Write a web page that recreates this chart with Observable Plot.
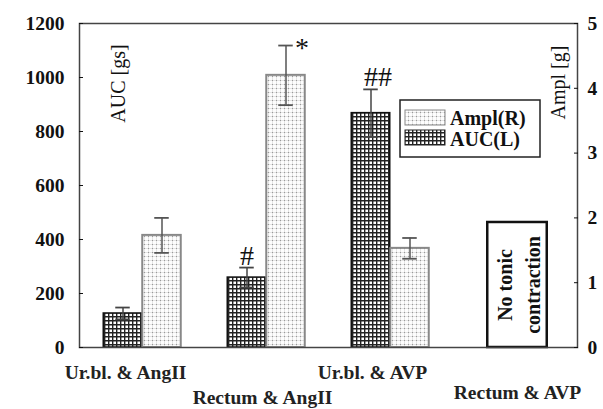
<!DOCTYPE html>
<html><head><meta charset="utf-8">
<script src="https://cdn.jsdelivr.net/npm/d3@7"></script>
<script src="https://cdn.jsdelivr.net/npm/@observablehq/plot@0.6"></script>
<style>body{margin:0;background:#fff}</style>
</head><body><div id="chart"></div>
<script>
// ---- data ----
const groups = ["Ur.bl. & AngII", "Rectum & AngII", "Ur.bl. & AVP", "Rectum & AVP"];
const aucMean = [126, 259, 868, null];      // AUC [gs], left axis
const aucErr  = [22, 37, 88, null];
const amplMean = [1.73, 4.2, 1.53, null];    // Ampl [g], right axis
const amplErr  = [0.27, 0.46, 0.16, null];
const aucSig  = ["", "#", "##", ""];
const amplSig = ["", "*", "", ""];
const leftTicks  = [0, 200, 400, 600, 800, 1000, 1200];
const rightTicks = [0, 1, 2, 3, 4, 5];
const noteGroup = "Rectum & AVP";
const noteText = "No tonic\ncontraction";
const noteTop = 463;  // height of note box in AUC units
const legendLabels = ["Ampl(R)", "AUC(L)"];

// ---- layout / style ----
const W = 603, H = 409, mL = 79, mR = 26, mT = 23, mB = 62;
const bw = (W - mL - mR) / groups.length;
const barW = 39, capW = 15;
const leftMax = 1200, rightMax = 5, k = leftMax / rightMax;
const font = "'Liberation Serif', 'DejaVu Serif', serif";
const labelDx = [-17, -4, -18, 3];
const labelDy = [25, 50, 25, 45];
const aucSigDx = [0, 0, 7, 0];

const rows = groups.map((g, i) => ({
  group: g, i,
  auc: aucMean[i], aucErr: aucErr[i],
  ampl: amplMean[i] == null ? null : amplMean[i] * k,
  amplErr: amplErr[i] == null ? null : amplErr[i] * k,
  aucSig: aucSig[i], amplSig: amplSig[i]
}));
const aucRows = rows.filter(d => d.auc != null);
const amplRows = rows.filter(d => d.ampl != null);

const capInsets = (offset) => ({
  insetLeft: bw / 2 + offset - capW / 2,
  insetRight: bw / 2 - offset - capW / 2
});

const chart = Plot.plot({
  width: W, height: H,
  marginLeft: mL, marginRight: mR, marginTop: mT, marginBottom: mB,
  style: {fontFamily: font, background: "#fff", color: "#111"},
  x: {domain: groups, padding: 0, axis: null},
  y: {domain: [0, leftMax], axis: null},
  marks: [
    // AUC bars
    Plot.barY(aucRows, {x: "group", y: "auc", fill: "url(#hatchAUC)", stroke: "#111", strokeWidth: 1.5,
      insetLeft: bw / 2 - barW, insetRight: bw / 2}),
    // Ampl bars
    Plot.barY(amplRows, {x: "group", y: "ampl", fill: "url(#dotsAmpl)", stroke: "#888", strokeWidth: 2,
      insetLeft: bw / 2, insetRight: bw / 2 - barW}),
    // error bars AUC
    Plot.ruleX(aucRows, {x: "group", y1: d => d.auc - d.aucErr, y2: d => d.auc + d.aucErr, dx: -barW / 2, stroke: "#444", strokeWidth: 1.5}),
    Plot.tickY(aucRows, {x: "group", y: d => d.auc + d.aucErr, stroke: "#444", strokeWidth: 1.8, ...capInsets(-barW / 2)}),
    Plot.tickY(aucRows, {x: "group", y: d => d.auc - d.aucErr, stroke: "#444", strokeWidth: 1.8, ...capInsets(-barW / 2)}),
    // error bars Ampl
    Plot.ruleX(amplRows, {x: "group", y1: d => d.ampl - d.amplErr, y2: d => d.ampl + d.amplErr, dx: barW / 2, stroke: "#555", strokeWidth: 1.5}),
    Plot.tickY(amplRows, {x: "group", y: d => d.ampl + d.amplErr, stroke: "#555", strokeWidth: 1.8, ...capInsets(barW / 2)}),
    Plot.tickY(amplRows, {x: "group", y: d => d.ampl - d.amplErr, stroke: "#555", strokeWidth: 1.8, ...capInsets(barW / 2)}),
    // significance markers
    ...aucRows.filter(d => d.aucSig).map(d => Plot.text([d], {x: "group", y: r => r.auc + r.aucErr, text: "aucSig",
      dx: -barW / 2 + aucSigDx[d.i], lineAnchor: "bottom", dy: -3, fontSize: 28, fill: "#111"})),
    ...amplRows.filter(d => d.amplSig).map(d => Plot.text([d], {x: "group", y: r => r.ampl + r.amplErr, text: "amplSig",
      dx: barW / 2 + 16, lineAnchor: "middle", dy: 2, fontSize: 28, fill: "#111"})),
    // note box
    Plot.barY([noteGroup], {x: d => d, y: () => noteTop, fill: "#fff", stroke: "#111", strokeWidth: 2.5,
      insetLeft: bw / 2 - 27, insetRight: bw / 2 - 33}),
    Plot.text([noteGroup], {x: d => d, y: () => noteTop / 2, text: () => noteText, rotate: -90,
      fontSize: 20, fontWeight: "bold", lineHeight: 1.4, dx: 3, fill: "#111"}),
    // category labels
    ...rows.map((d, i) => Plot.text([d], {x: "group", y: () => 0, text: "group", fontSize: 19.5, fontWeight: "bold",
      fill: "#222", dx: labelDx[i], dy: labelDy[i]})),
    // frame
    Plot.frame({stroke: "#444", strokeWidth: 1.5}),
    // left axis
    Plot.axisY({anchor: "left", ticks: leftTicks, tickSize: -4, tickPadding: 19, fontSize: 19.5, fontWeight: "bold",
      tickFormat: d => String(d), label: null}),
    // right axis (Ampl scale)
    Plot.axisY({anchor: "right", ticks: rightTicks.map(v => v * k), tickSize: -4, tickPadding: 14, fontSize: 19.5,
      fontWeight: "bold", tickFormat: d => String(d / k), label: null}),
    // axis titles
    Plot.text(["AUC [gs]"], {frameAnchor: "top-left", text: d => d, rotate: -90, textAnchor: "middle", dx: 31, dy: 60, fontSize: 20, fill: "#111"}),
    Plot.text(["Ampl [g]"], {frameAnchor: "top-right", text: d => d, rotate: -90, textAnchor: "middle", dx: -27, dy: 59, fontSize: 20, fill: "#111"})
  ]
});

const svg = d3.select(chart.tagName === "svg" ? chart : chart.querySelector("svg"));
const defs = svg.insert("defs", ":first-child");
const h = defs.append("pattern").attr("id", "hatchAUC").attr("width", 4).attr("height", 4).attr("patternUnits", "userSpaceOnUse");
h.append("rect").attr("width", 4).attr("height", 4).attr("fill", "#fff");
h.append("path").attr("d", "M0,0.7H4M0.7,0V4").attr("stroke", "#222").attr("stroke-width", 1.4);
const p = defs.append("pattern").attr("id", "dotsAmpl").attr("width", 4).attr("height", 4).attr("patternUnits", "userSpaceOnUse");
p.append("rect").attr("width", 4).attr("height", 4).attr("fill", "#fdfdfd");
p.append("path").attr("d", "M0,0.5H4M0.5,0V4").attr("stroke", "#ddd").attr("stroke-width", 0.8);
p.append("rect").attr("width", 1).attr("height", 1).attr("fill", "#999");

// legend
const lg = svg.append("g").attr("font-family", font).attr("font-weight", "bold").attr("font-size", 20)
  .attr("fill", "#111").attr("text-anchor", "start");
lg.append("rect").attr("x", 400).attr("y", 100).attr("width", 140).attr("height", 57).attr("fill", "#fff").attr("stroke", "#222").attr("stroke-width", 1.5);
const fills = ["url(#dotsAmpl)", "url(#hatchAUC)"], strokes = ["#888", "#222"];
legendLabels.forEach((t, i) => {
  lg.append("rect").attr("x", 405).attr("y", 110 + i * 20).attr("width", 40).attr("height", 15)
    .attr("fill", fills[i]).attr("stroke", strokes[i]).attr("stroke-width", 1);
  lg.append("text").attr("x", 450).attr("y", 118 + i * 21).attr("dy", "0.35em").text(t);
});

document.getElementById("chart").append(chart);
</script></body></html>
